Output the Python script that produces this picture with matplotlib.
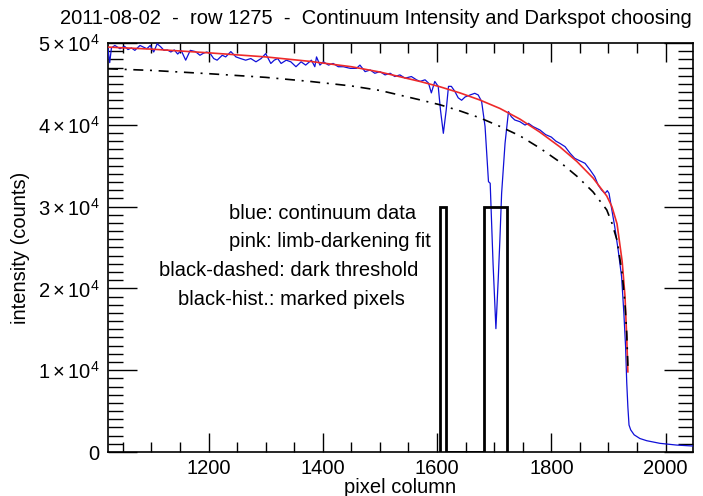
import matplotlib
matplotlib.use('Agg')
import matplotlib.pyplot as plt
import matplotlib.ticker as mticker
import numpy as np

plt.rcParams.update({
    'font.family': ['Liberation Sans', 'DejaVu Sans'],
    'mathtext.fontset': 'custom',
    'mathtext.rm': 'Liberation Sans',
    'mathtext.it': 'Liberation Sans:italic',
    'mathtext.bf': 'Liberation Sans:bold',
    'font.size': 14.5,
})

# ---- data ----
blue_x = [1024, 1027, 1030, 1036, 1045, 1053, 1059, 1065, 1071, 1080, 1086, 1092, 1098,
          1104, 1110, 1116, 1122, 1128, 1134, 1140, 1146, 1152, 1160, 1168, 1177, 1185,
          1191, 1197, 1203, 1209, 1215, 1224, 1230, 1239, 1248, 1256, 1265, 1274, 1283,
          1292, 1300, 1309, 1315, 1321, 1327, 1336, 1344, 1353, 1362, 1370, 1380, 1386,
          1389, 1395, 1401, 1410, 1418, 1427, 1436, 1448, 1459, 1465, 1474, 1483, 1491,
          1500, 1509, 1518, 1526, 1535, 1544, 1555, 1564, 1570, 1579, 1585, 1590, 1596,
          1602, 1606, 1611, 1616, 1620, 1625, 1631, 1637, 1643, 1649, 1658, 1666, 1672,
          1678, 1684, 1690, 1693, 1698, 1703, 1707, 1710, 1713, 1719, 1725, 1730, 1736,
          1745, 1754, 1760, 1768, 1780, 1790, 1800, 1808, 1815, 1824, 1833, 1841, 1847,
          1853, 1859, 1868, 1876, 1882, 1888, 1894, 1898, 1901, 1906, 1911, 1917, 1923,
          1927, 1930, 1932, 1934, 1936, 1939, 1945, 1955, 1967, 1990, 2019, 2048]
blue_y = [49300, 47600, 49400, 49700, 49300, 49600, 49200, 49400, 49100, 49700, 49500, 49300, 49700,
          48900, 49900, 49550, 49100, 49150, 48900, 49150, 48650, 49100, 47900, 49100, 48950, 48500,
          48750, 48900, 48700, 48100, 47900, 48500, 48300, 48950, 48300, 48100, 47900, 48100, 47700,
          48100, 48700, 47500, 47900, 48100, 47500, 47900, 47700, 47100, 47700, 47300, 47900, 47100,
          48300, 47300, 47700, 47300, 47500, 47100, 47100, 46900, 46900, 47300, 46500, 46700, 46300,
          46500, 46100, 46300, 45900, 46100, 45700, 45900, 45500, 45300, 45500, 45100, 43900, 45300,
          44700, 41800, 38960, 41800, 44700, 44700, 44100, 43300, 43000, 43400, 43650, 43850, 43650,
          42850, 39800, 33050, 32850, 23060, 15080, 21030, 26000, 31620, 37740, 41610, 40990, 40590,
          40380, 39970, 40180, 39780, 39370, 38800, 38500, 38000, 37730, 37330, 36510, 35900, 35700,
          35490, 35290, 34470, 33660, 32640, 32030, 31620, 31950, 31620, 29580, 27540, 24690, 21430,
          16950, 12870, 8500, 5500, 3300, 2700, 2100, 1650, 1380, 1060, 850, 730]

fit_x = [1024, 1100, 1200, 1300, 1378, 1450, 1500, 1570, 1605, 1640, 1675, 1710, 1745,
         1780, 1815, 1845, 1873, 1897, 1906, 1915, 1924, 1929, 1932, 1934]
fit_y = [49500, 49250, 48800, 48300, 47750, 47100, 46450, 45300, 44650, 43900, 43030, 42000, 40700,
         39100, 37300, 35500, 33500, 31300, 30000, 27900, 23300, 19000, 14000, 9800]

thr_x = fit_x
thr_y = [46850, 46650, 46250, 45800, 45300, 44750, 44200, 43050, 42450, 41700, 40850, 39800, 38650,
         37150, 35450, 33700, 31800, 29600, 28000, 25900, 21800, 18100, 14500, 10500]

marked_start = [1605, 1682]
marked_end = [1615, 1722]
hist_level = 30000

notes = ['blue: continuum data', 'pink: limb-darkening fit',
         'black-dashed: dark threshold', 'black-hist.: marked pixels']
note_x = [1236, 1236, 1113, 1147]
note_y = [29100, 25700, 22150, 18600]

# ---- plot ----
fig = plt.figure(figsize=(7.03, 4.96), dpi=100)
ax = fig.add_axes([108/703, 1 - 452/496, 585/703, 409/496])

ax.plot(blue_x, blue_y, color='#1010d8', lw=0.9, zorder=3)
ax.plot(fit_x, fit_y, color='#ee2a2a', lw=1.2, zorder=4)
ax.plot(thr_x, thr_y, color='black', lw=1.2, dashes=(6, 4, 1.2, 4), zorder=4)

hx, hy = [], []
for s, e in zip(marked_start, marked_end):
    hx += [s, s, e, e]
    hy += [0, hist_level, hist_level, 0]
ax.plot(hx, hy, color='black', lw=2.0, zorder=5, solid_joinstyle='miter')

for t, x, y in zip(notes, note_x, note_y):
    ax.text(x, y, t, ha='left', va='center', fontsize=14.5)

ax.set_xlim(1024, 2048)
ax.set_ylim(0, 50000)

ax.xaxis.set_major_locator(mticker.MultipleLocator(200))
ax.xaxis.set_minor_locator(mticker.MultipleLocator(50))
ax.yaxis.set_major_locator(mticker.MultipleLocator(10000))
ax.yaxis.set_minor_locator(mticker.MultipleLocator(1000))

def yfmt(v, pos):
    if v == 0:
        return '0'
    return r'$%d\times10^{4}$' % round(v / 10000)
ax.yaxis.set_major_formatter(mticker.FuncFormatter(yfmt))

ax.tick_params(which='both', direction='in', top=True, right=True, width=1.0,
               labelsize=14.5, color='black')
ax.tick_params(axis='x', which='major', length=14, pad=5)
ax.tick_params(axis='x', which='minor', length=7)
ax.tick_params(axis='y', which='major', length=21, pad=6)
ax.tick_params(axis='y', which='minor', length=10.5)
for sp in ax.spines.values():
    sp.set_linewidth(1.2)

ax.set_xlabel('pixel column', fontsize=14.5, labelpad=0)
ax.set_ylabel('intensity (counts)', fontsize=14.5, labelpad=6)

fig.text(376/703, 1 - 18/496,
         '2011-08-02  -  row 1275  -  Continuum Intensity and Darkspot choosing',
         ha='center', va='center', fontsize=14.5)

fig.savefig('out.png', dpi=100)
